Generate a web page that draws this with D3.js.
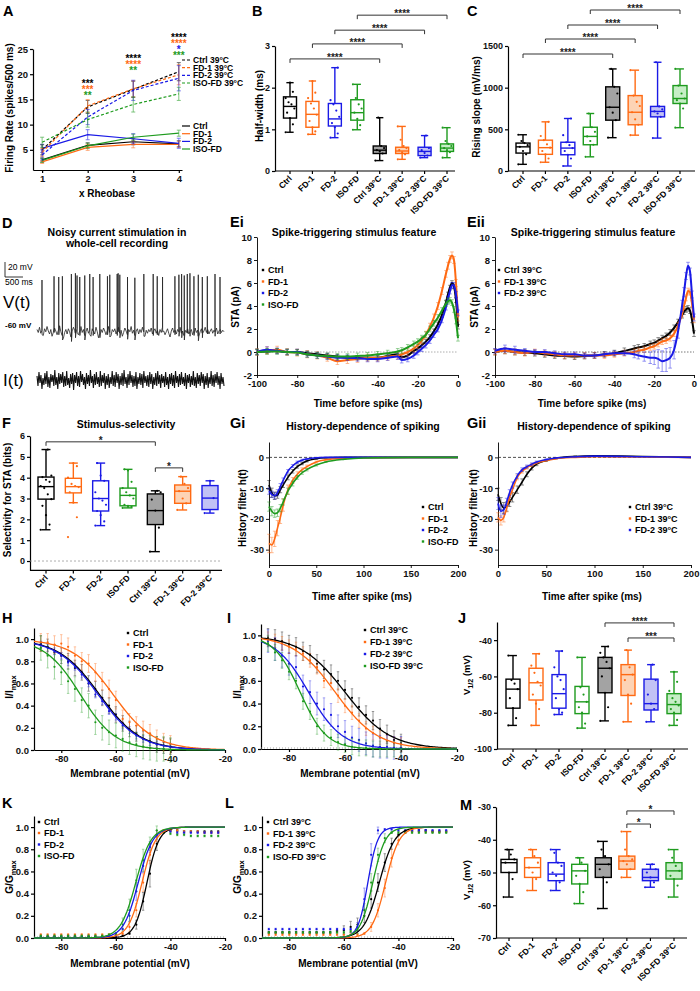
<!DOCTYPE html>
<html>
<head>
<meta charset="utf-8">
<script src="https://cdn.jsdelivr.net/npm/d3@7"></script>
<style>
body { margin: 0; background: #fff; }
text { font-family: "Liberation Sans", Arial, sans-serif; }
</style>
</head>
<body>
<svg id="fig" width="700" height="991"></svg>
<script>
const svg = d3.select("#fig");

const C = { ctrl: "#000000", fd1: "#ff6a13", fd2: "#1a1ae6", iso: "#1e9b1e" };
const grpColor = [C.ctrl, C.fd1, C.fd2, C.iso, C.ctrl, C.fd1, C.fd2, C.iso];
const grpFill = ["#fff", "#fff", "#fff", "#fff", "#a3a3a3", "#fdd3b5", "#c2c2f5", "#c6eec6"];
const col4 = [C.ctrl, C.fd1, C.fd2, C.iso];

const groups8 = ["Ctrl", "FD-1", "FD-2", "ISO-FD", "Ctrl 39°C", "FD-1 39°C", "FD-2 39°C", "ISO-FD 39°C"];
const groups7 = groups8.slice(0, 7);
const names4 = ["Ctrl", "FD-1", "FD-2", "ISO-FD"];
const names4hot = ["Ctrl 39°C", "FD-1 39°C", "FD-2 39°C", "ISO-FD 39°C"];

// ---------- A: firing rate
const rheo = [1, 2, 3, 4];
const aMean = [
	[3.0, 5.9, 6.6, 6.2], [2.6, 5.5, 6.1, 6.1], [5.3, 8.0, 7.2, 6.3], [2.9, 5.8, 7.5, 8.3],
	[5.0, 13.5, 17.0, 20.5], [4.5, 13.7, 17.1, 19.9], [4.0, 11.5, 16.8, 19.2], [6.5, 11.0, 14.0, 16.1]
];
const aSem = [
	[0.4, 0.5, 0.6, 0.6], [0.3, 0.6, 0.7, 0.6], [0.8, 1.0, 1.0, 1.0], [0.4, 0.5, 0.6, 0.6],
	[1.0, 1.3, 1.6, 1.8], [0.8, 1.3, 1.6, 2.0], [1.0, 1.5, 2.0, 2.5], [1.0, 1.5, 1.5, 1.3]
];
const aStarTop = [null, 18.5, 23.4, 27.6];
// [rheobase index, row, stars, group colour]
const aStars = [
	[1, 0, "***", 0], [1, 1, "***", 1], [1, 2, "**", 3],
	[2, 0, "****", 0], [2, 1, "****", 1], [2, 2, "**", 3],
	[3, 0, "****", 0], [3, 1, "****", 1], [3, 2, "*", 2], [3, 3, "***", 3]
];

// ---------- box plots: [min, q1, median, q3, max]
const bStats = [[0.93,1.27,1.55,1.78,2.12],[0.88,1.05,1.36,1.67,2.16],[0.80,1.08,1.25,1.62,2.48],[0.99,1.22,1.40,1.71,2.08],
	[0.25,0.42,0.50,0.60,1.28],[0.28,0.42,0.48,0.57,1.07],[0.32,0.37,0.47,0.57,0.85],[0.32,0.47,0.55,0.65,1.04]];
const bPts = [[0.93,1.12,1.27,1.4,1.5,1.6,1.65,1.75,1.9,2.12],[0.88,0.95,1.05,1.2,1.35,1.5,1.62,1.75,1.88,2.16],
	[0.8,0.9,1.05,1.15,1.3,1.45,1.6,1.7,2.48],[0.99,1.1,1.25,1.4,1.5,1.6,1.75,2.08],[0.25,0.42,0.47,0.5,0.55,0.6,1.28],
	[0.28,0.4,0.45,0.5,0.55,0.6,0.75,1.07],[0.32,0.37,0.43,0.5,0.55,0.85],[0.32,0.45,0.5,0.55,0.6,0.65,0.72,1.04]];
const bBrackets = [[0,4,2.69,"****"],[1,5,3.05,"****"],[2,6,3.38,"****"],[3,7,3.74,"****"]];

const cStats = [[80,215,290,335,435],[105,200,280,370,590],[60,195,275,345,630],[170,315,415,525,690],
	[400,610,765,1010,1225],[430,555,705,905,1210],[395,650,715,775,1305],[520,810,870,1025,1225]];
const cPts = [[80,200,240,290,310,335,360,435],[105,150,200,240,280,320,370,420,590],[60,150,195,240,275,310,345,430,630],
	[170,315,360,415,470,525,690],[400,610,700,765,930,1010,1225],[430,555,620,705,780,830,905,1210],
	[395,650,690,715,740,775,1305],[520,750,810,850,870,930,1025,1225]];
const cBrackets = [[0,4,1404,"****"],[1,5,1584,"****"],[2,6,1752,"****"],[3,7,1932,"****"]];

const fStats = [[1.5,2.97,3.57,4.03,5.35],[2.8,3.27,3.57,3.97,4.7],[1.7,2.4,3.0,3.85,4.7],[2.55,2.65,3.15,3.5,4.4],
	[0.45,1.75,2.42,3.22,3.37],[2.45,2.77,3.35,3.65,4.05],[2.3,2.47,3.02,3.62,3.85]];
const fPts = [[1.5,1.75,2.2,2.65,2.97,3.2,3.5,3.6,3.8,3.9,4.03,4.1,5.35],[1.15,2.1,2.8,3.3,3.55,3.6,3.7,4.0,4.55,4.7],
	[1.7,1.9,2.2,2.4,2.7,2.9,3.0,3.3,3.85,4.1,4.7],[2.55,2.6,2.65,2.7,3.0,3.15,3.3,3.5,3.8,4.35,4.4],
	[0.45,1.6,2.42,2.95,3.3,3.37],[2.45,2.77,3.0,3.35,3.5,3.7,4.05],[2.3,3.02,3.85]];
const fBrackets = [[0,4,5.72,"*"],[4,5,4.47,"*"]];

const jStats = [[-87,-77.5,-67,-61.5,-48.5],[-87,-73,-63.5,-55.5,-47.5],[-81,-77.5,-69.5,-59,-46],[-88.5,-80.5,-74,-65.5,-49.5],
	[-84.5,-69,-55.5,-49.5,-43.5],[-85,-70.5,-59,-53.5,-45.5],[-85,-78.5,-75,-61.5,-53.5],[-87,-80.5,-75.5,-69.5,-57.5]];
const jPts = [[-87,-83,-77.5,-72,-67,-64,-62,-48.5],[-87,-78,-75,-70,-65,-63,-58,-54,-47.5],[-81,-80,-78,-72,-67,-62,-60,-55,-46],
	[-88.5,-86,-80,-77,-74,-70,-66,-49.5],[-84.5,-77,-69,-60,-55.5,-52,-49.5,-47,-43.5],[-85,-75,-70,-62,-59,-55,-45.5],
	[-85,-78,-75,-70,-62,-53.5],[-87,-84,-80,-78,-76,-74,-72,-68,-63,-57.5]];
const jBrackets = [[4,7,-30.5,"****"],[5,7,-38.8,"***"]];

const mStats = [[-57.5,-50,-47,-46,-43],[-55.5,-51.5,-48.5,-45.5,-43],[-55.5,-52.5,-50.5,-47,-43],[-59.5,-53.5,-49.5,-47.5,-45.5],
	[-61,-51.5,-47.5,-45.5,-40.5],[-51.5,-49,-46.5,-45,-37.5],[-54.5,-52.5,-51.5,-49,-47.5],[-57.5,-52,-49.5,-47,-43]];
const mPts = [[-57.5,-52,-50,-47,-46,-44.5,-43],[-55.5,-52,-50,-48.5,-47,-45,-43],[-55.5,-53,-51,-50,-48,-47,-44,-43],
	[-59.5,-56,-53.5,-51,-49.5,-47,-45.5],[-61,-53,-51.5,-49,-47.5,-45,-43,-40.5],[-51.5,-49,-47.5,-46.5,-46,-45,-43,-37.5],
	[-54.5,-53,-51.5,-50,-49,-47.5],[-57.5,-54,-52,-51,-49.5,-48,-45.5,-43]];
const mBrackets = [[5,7,-31.2,"*"],[5,6,-35.2,"*"]];

// ---------- D: traces
const vNoise = [-58,-62,-55,-63,-59,-66,-57,-61,-54,-60,-64,-58,-67,-62,-56,-60,-65,-59,-53,-61,-66,-70,-62,-58,-64,-57,-61,-68,-60,-55,
	-59,-63,-57,-65,-60,-54,-62,-58,-66,-61,-56,-63,-59,-67,-57,-60,-64,-55,-61,-69,-63,-58,-62,-56,-60,-65,-59,-54,-62,-66,
	-58,-61,-57,-64,-60,-55,-63,-59,-67,-62,-56,-60,-65,-58,-61,-54,-63,-59,-66,-60,-57,-64,-58,-62,-55,-61,-67,-59,-63,-58,
	-61,-56,-64,-60,-57,-63,-59,-66,-58,-62,-55,-60,-65,-61,-57,-63,-68,-60,-56,-62,-59,-64,-58,-61,-55,-63,-60,-66,-59,-62,
	-57,-64,-61,-58,-65,-60,-56,-62,-59,-67,-61,-57,-63,-60,-55,-62,-58,-64,-60,-57,-63,-59,-61,-56,-64,-60,-58,-62,-59,-61];
const spikes = [[139,8],[474,13],[604,12],[706,13],[956,16],[1068,17],[1114,14],[1189,12],[1328,14],[1467,16],[1560,12],[1746,16],
	[1959,13],[2024,15],[2229,16],[2256,17],[2303,15],[2517,12],[2721,11],[2971,16],[3231,16],[3343,13],[3491,12],[3835,13],
	[3946,15],[4021,16],[4095,14],[4179,16],[4253,17],[4364,13],[4485,15],[4597,12],[4736,13],[4950,16],[5089,12]];
const iNoise = [0.4,-0.6,0.8,-0.3,0.5,-0.9,0.2,-0.5,0.7,-0.4,0.9,-0.7,0.3,-0.8,0.6,-0.2,0.5,-0.6,1.0,-0.5,0.3,-0.9,0.7,-0.4,0.6,-0.3,
	0.8,-0.7,0.4,-0.6,0.9,-0.5,0.2,-0.8,0.6,-0.4,0.7,-1.0,0.5,-0.3,0.8,-0.6,0.4,-0.7,0.9,-0.2,0.6,-0.5,0.3,-0.9,0.7,-0.4,0.5,-0.6,
	1.0,-0.3,0.4,-0.8,0.6,-0.5,0.8,-0.4,0.3,-0.7,0.9,-0.6,0.5,-0.3,0.7,-0.9,0.4,-0.5,0.6,-0.8,0.3,-0.4,0.9,-0.6,0.5,-0.7,0.8,-0.3,
	0.6,-0.9,0.4,-0.5,0.7,-0.6,1.0,-0.4,0.3,-0.8,0.6,-0.5,0.9,-0.3,0.5,-0.7,0.4,-0.6,0.8,-0.9,0.3,-0.4,0.7,-0.5,0.6,-0.8,0.9,-0.3,
	0.4,-0.6,0.5,-0.7,0.8,-0.4,0.6,-0.9,0.3,-0.5,0.7,-0.6,0.9,-0.4,0.5,-0.8,0.6,-0.3,0.4,-0.7,0.8,-0.5,0.3,-0.9,0.6,-0.4,0.7,-0.6,
	0.5,-0.8,0.9,-0.3,0.4,-0.7,0.6,-0.5,0.8,-0.4,0.3,-0.6,0.7,-0.9,0.5,-0.3,0.6,-0.7,0.4,-0.5,0.9,-0.6,0.3,-0.8,0.7,-0.4,0.5,-0.6,
	0.8,-0.3,0.6,-0.9,0.4,-0.5,0.7,-0.8,0.3,-0.4,0.9,-0.6,0.5,-0.7,0.6,-0.3,0.8,-0.5,0.4,-0.9,0.7,-0.4,0.3,-0.6];

// ---------- E: spike-triggered averages
const staT = [-100,-95,-90,-85,-80,-75,-70,-65,-60,-55,-50,-45,-40,-35,-30,-28,-25,-22,-20,-18,-16,-14,-12,-10,-8,-6,-5,-4,-3,-2,-1,0];
const staI = [
	[0,0.05,0.1,0,0,-0.1,-0.2,-0.3,-0.4,-0.5,-0.5,-0.5,-0.5,-0.35,-0.2,-0.45,-0.3,0.1,0.3,0.6,0.9,1.3,1.8,2.4,3.2,4.3,5.0,5.6,6.0,5.7,4.5,2.2],
	[0,0.15,0.2,0,-0.05,-0.2,-0.3,-0.5,-0.8,-0.7,-0.6,-0.5,-0.5,-0.4,-0.3,-0.2,0,0.3,0.6,1.0,1.5,2.2,3.0,4.0,5.3,6.8,7.5,8.1,8.4,8.0,6.0,3.0],
	[0,0.2,0.1,0,0,-0.2,-0.3,-0.4,-0.5,-0.5,-0.55,-0.6,-0.6,-0.5,-0.4,-0.7,-0.6,-0.3,0,0.3,0.6,1.0,1.5,2.0,2.8,3.9,4.6,5.3,5.8,5.8,5.0,3.4],
	[0,0.05,0.05,0,-0.05,-0.2,-0.3,-0.35,-0.4,-0.4,-0.35,-0.3,-0.2,-0.1,0.05,0.15,0.4,0.7,0.9,1.2,1.5,2.0,2.5,3.0,3.6,4.2,4.4,4.5,4.3,3.7,2.7,1.2]
];
const staISem = [0.2, 0.3, 0.25, 0.25];
const staII = [
	[0,0.1,0,-0.05,-0.1,-0.2,-0.3,-0.35,-0.4,-0.35,-0.3,-0.2,-0.1,0.1,0.3,0.4,0.5,0.7,0.8,1.0,1.2,1.4,1.7,2.1,2.6,3.2,3.5,3.7,3.8,3.6,2.8,1.6],
	[0,0.1,0,-0.1,0,-0.1,-0.2,-0.3,-0.3,-0.3,-0.3,-0.3,-0.2,-0.1,0,0.1,0.2,0.4,0.5,0.7,0.9,1.0,1.2,1.6,2.3,3.3,4.0,4.7,5.3,5.2,4.2,2.8],
	[0.1,0.3,0.2,0.1,0,0,-0.1,-0.2,-0.2,-0.3,-0.3,-0.2,-0.1,-0.1,-0.2,-0.3,-0.4,-0.5,-0.5,-0.6,-0.8,-0.7,-0.5,0.2,1.8,4.0,5.2,6.6,7.5,7.0,5.0,3.0]
];
const staIISem = [
	0.25, 0.25,
	[0.2,0.3,0.3,0.2,0.2,0.2,0.2,0.2,0.2,0.2,0.2,0.2,0.2,0.2,0.3,0.3,0.4,0.5,0.6,0.8,0.9,1.0,0.9,0.8,0.6,0.5,0.4,0.3,0.3,0.3,0.3,0.3]
];

// ---------- G: history filters
const histT = [0,3,6,9,12,15,20,25,30,35,40,50,60,80,100,150,200];
const histI = [
	[-9,-11.5,-12.5,-12.3,-10.5,-9,-6.5,-4.5,-3,-2,-1.2,-0.4,-0.1,0,0,0,0],
	[-28,-28.5,-26.5,-23,-19.5,-15.5,-10.5,-7.5,-5.5,-4,-3,-1.5,-0.8,-0.3,-0.1,0,0],
	[-11,-12,-12.5,-11.5,-9.5,-7.5,-4.5,-2.8,-1.6,-0.9,-0.5,-0.1,0,0,0,0,0],
	[-16,-17.5,-18.3,-18,-16.5,-14.5,-11,-8.5,-6.5,-5,-4,-2.5,-1.5,-0.6,-0.2,0,0]
];
const histISem = [
	[1.5,1.5,1.2,1.0,1.0,0.8,0.8,0.6,0.5,0.4,0.3,0.2,0.1,0,0,0,0],
	[3,2.5,2.5,2.5,2,2,1.5,1,0.8,0.6,0.5,0.3,0.2,0.1,0,0,0],
	[1,1,1,1,1,0.8,0.6,0.5,0.4,0.3,0.2,0.1,0,0,0,0,0],
	[1.5,1.5,1.2,1.2,1.2,1,1,0.8,0.6,0.5,0.4,0.3,0.2,0.1,0,0,0]
];
const histII = [
	[-12,-15,-16.5,-16,-14.5,-13,-10.5,-8,-5.5,-3.5,-2.2,-1,-0.3,0.3,0.5,0.3,0],
	[-19.5,-20.5,-19.5,-16.5,-13,-10.5,-6.5,-4.5,-3.3,-2.5,-1.8,-1,-0.4,0,0.2,0.1,0],
	[-15,-17.5,-17,-14.5,-11.5,-9,-6,-4,-3,-2.2,-1.5,-0.7,-0.2,0.2,0.4,0.2,0]
];
const histIISem = [
	[2,2,1.8,1.5,1.5,1.5,1.2,1,0.8,0.6,0.5,0.3,0.2,0.2,0.1,0,0],
	[1.5,1.5,1.5,1.2,1,1,0.8,0.6,0.5,0.4,0.3,0.2,0.1,0,0,0,0],
	[2,2,1.5,1.2,1,1,0.8,0.6,0.5,0.4,0.3,0.2,0.1,0.1,0,0,0]
];

// ---------- H/I: inactivation, K/L: activation
const inactV = [-87.5,-85,-82.5,-80,-77.5,-75,-72.5,-70,-67.5,-65,-62.5,-60,-57.5,-55,-52.5,-50,-47.5,-45,-42.5,-40];
const hData = [
	[0.96,0.93,0.88,0.85,0.80,0.74,0.70,0.60,0.55,0.47,0.40,0.32,0.24,0.19,0.15,0.10,0.08,0.05,0.04,0.03],
	[0.97,0.97,0.95,0.96,0.93,0.85,0.80,0.78,0.70,0.62,0.55,0.45,0.28,0.25,0.22,0.18,0.15,0.10,0.07,0.05],
	[0.95,0.92,0.89,0.85,0.79,0.75,0.68,0.60,0.50,0.44,0.35,0.30,0.22,0.18,0.13,0.10,0.07,0.05,0.04,0.03],
	[0.92,0.85,0.75,0.70,0.62,0.55,0.45,0.40,0.25,0.20,0.16,0.13,0.10,0.07,0.05,0.03,0.02,0.01,0.01,0.0]
];
const hSem = [0.07, 0.08, 0.03, 0.11];
const hFit = [[-66, 7.5], [-61, 7.5], [-66.5, 7.5], [-73, 6.5]];
const iData = [
	[0.98,0.97,0.95,0.92,0.90,0.86,0.83,0.75,0.70,0.66,0.60,0.52,0.45,0.37,0.30,0.25,0.18,0.13,0.08,0.05],
	[0.97,0.95,0.93,0.90,0.88,0.84,0.78,0.72,0.60,0.58,0.47,0.38,0.32,0.25,0.18,0.14,0.10,0.07,0.05,0.04],
	[0.95,0.88,0.82,0.75,0.72,0.55,0.50,0.40,0.35,0.30,0.20,0.15,0.10,0.08,0.05,0.03,0.02,0.02,0.01,0.01],
	[0.93,0.85,0.78,0.68,0.60,0.42,0.33,0.20,0.14,0.10,0.06,0.04,0.02,0.01,0.01,0,0,0,0,0]
];
const iSem = [0.08, 0.06, 0.1, 0.07];
const iFit = [[-60, 8], [-63.5, 7.5], [-73, 6], [-76, 4.7]];

const actV = [-87.5,-85,-82.5,-80,-77.5,-75,-72.5,-70,-67.5,-65,-62.5,-60,-57.5,-55,-52.5,-50,-47.5,-45,-42.5,-40,-37.5,-35,-32.5,-30,-27.5,-25,-22.5];
const kData = [
	[0.01,0.01,0.01,0.01,0.01,0.01,0.01,0.01,0.01,0.01,0.01,0.01,0.02,0.04,0.12,0.33,0.58,0.85,0.96,0.97,0.97,0.96,0.96,0.96,0.96,0.96,0.96],
	[0.03,0.03,0.03,0.03,0.03,0.03,0.03,0.03,0.03,0.03,0.03,0.03,0.04,0.10,0.25,0.50,0.75,0.92,0.97,0.97,0.97,0.96,0.96,0.96,0.95,0.95,0.95],
	[0.01,0.01,0.01,0.01,0.01,0.01,0.01,0.01,0.01,0.01,0.01,0.02,0.08,0.20,0.42,0.65,0.82,0.93,0.96,0.96,0.95,0.95,0.95,0.95,0.95,0.95,0.95],
	[0.02,0.02,0.02,0.02,0.02,0.02,0.02,0.02,0.02,0.02,0.03,0.04,0.12,0.25,0.52,0.70,0.85,0.97,0.95,0.94,0.93,0.93,0.92,0.92,0.92,0.92,0.92]
];
// sparse sem: [point index, sem]
const kSem = [
	[[14,0.04],[15,0.08],[16,0.12],[17,0.06]],
	[[13,0.04],[14,0.06],[15,0.08],[16,0.08],[17,0.05]],
	[[13,0.05],[14,0.08],[15,0.06],[16,0.05],[17,0.04]],
	[[12,0.06],[13,0.1],[14,0.1],[15,0.1],[16,0.06],[17,0.04]]
];
const kFit = [[-48.6, 2.2], [-50.4, 2.5], [-51.8, 2.7], [-52.7, 2.8]];
const lData = [
	[0.05,0.05,0.05,0.05,0.05,0.05,0.05,0.05,0.05,0.05,0.06,0.07,0.10,0.12,0.20,0.35,0.50,0.68,0.85,0.93,0.96,0.97,0.97,0.97,0.96,0.96,0.96],
	[0.03,0.03,0.03,0.03,0.03,0.03,0.03,0.03,0.03,0.03,0.03,0.03,0.03,0.03,0.04,0.10,0.25,0.45,0.72,0.88,0.95,0.96,0.96,0.96,0.96,0.96,0.96],
	[0.08,0.08,0.08,0.08,0.08,0.08,0.08,0.08,0.08,0.08,0.08,0.08,0.08,0.10,0.35,0.75,0.97,0.98,0.98,0.97,0.97,0.97,0.97,0.97,0.97,0.97,0.97],
	[0.05,0.05,0.05,0.05,0.05,0.05,0.05,0.05,0.05,0.05,0.05,0.05,0.06,0.08,0.25,0.50,0.75,0.90,0.95,0.95,0.95,0.95,0.95,0.95,0.95,0.95,0.95]
];
const lSem = [
	[[11,0.04],[12,0.05],[13,0.06],[14,0.06],[15,0.08],[16,0.08],[17,0.08],[18,0.05]],
	[[15,0.04],[16,0.06],[17,0.08],[18,0.08],[19,0.04]],
	[[13,0.04],[14,0.1],[15,0.1],[16,0.03]],
	[[13,0.04],[14,0.06],[15,0.08],[16,0.06],[17,0.04]]
];
const lFit = [[-47, 2.8], [-44.7, 2.5], [-51.2, 1.8], [-49.4, 2.3]];

// ================= helpers
function styleAx(sel, fs) {
	sel.selectAll("text").attr("font-size", fs || 9).attr("font-weight", "bold").attr("fill", "#111")
		.attr("font-family", '"Liberation Sans", Arial, sans-serif');
	sel.selectAll("path,line").attr("stroke", "#000").attr("stroke-width", 1.2);
}

function txt(x, y, s, o = {}) {
	return svg.append("text").attr("x", x).attr("y", y)
		.attr("font-size", o.fs || 10).attr("font-weight", o.w || "bold")
		.attr("text-anchor", o.anchor || "start").attr("fill", o.fill || "#000")
		.attr("font-family", o.family || '"Liberation Sans", Arial, sans-serif')
		.text(s);
}

// rotated axis title; parts = [[text, isSub], ...]
function yTitle(x, y, parts, fs) {
	const t = svg.append("text").attr("transform", `translate(${x},${y}) rotate(-90)`)
		.attr("text-anchor", "middle").attr("dominant-baseline", "middle")
		.attr("font-size", fs || 10).attr("font-weight", "bold");
	parts.forEach(([s, sub]) => {
		const sp = t.append("tspan").text(s);
		if (sub) sp.attr("font-size", (fs || 10) * 0.75).attr("baseline-shift", "sub");
	});
}

function axesXY(o) {
	const x = d3.scaleLinear().domain(o.xDom).range(o.xPx);
	const y = d3.scaleLinear().domain(o.yDom).range(o.yPx);
	const fx = o.xFmt ? d3.format(o.xFmt) : (d) => String(d);
	const fy = o.yFmt ? d3.format(o.yFmt) : (d) => String(d);
	const gx = svg.append("g").attr("transform", `translate(0,${o.yPx[0]})`)
		.call(d3.axisBottom(x).tickValues(o.xTicks).tickSize(3).tickSizeOuter(0).tickPadding(2).tickFormat(fx));
	const gy = svg.append("g").attr("transform", `translate(${o.xPx[0]},0)`)
		.call(d3.axisLeft(y).tickValues(o.yTicks).tickSize(3).tickSizeOuter(0).tickPadding(2).tickFormat(fy));
	styleAx(gx, o.fs);
	styleAx(gy, o.fs);
	if (o.thin) { gx.selectAll("path,line").attr("stroke-width", 0.9); gy.selectAll("path,line").attr("stroke-width", 0.9); }
	return { x, y };
}

function errBar(x, y0, y1, w, color, sw, op) {
	const g = svg.append("g").attr("stroke", color).attr("stroke-width", sw || 0.8).attr("opacity", op || 1);
	g.append("line").attr("x1", x).attr("x2", x).attr("y1", y0).attr("y2", y1);
	g.append("line").attr("x1", x - w).attr("x2", x + w).attr("y1", y0).attr("y2", y0);
	g.append("line").attr("x1", x - w).attr("x2", x + w).attr("y1", y1).attr("y2", y1);
}

function dotLegend(names, colors, x, ys, fs) {
	names.forEach((n, i) => {
		svg.append("rect").attr("x", x - 1.2).attr("y", ys[i] - 1.2).attr("width", 2.4).attr("height", 2.4).attr("fill", colors[i]);
		txt(x + 5, ys[i] + 3.2, n, { fs: fs || 9 });
	});
}

function boxPanel(o) {
	const x = d3.scalePoint().domain(o.cats).range(o.cx);
	const y = d3.scaleLinear().domain(o.yDom).range(o.yPx);
	const gy = svg.append("g").attr("transform", `translate(${o.ax},0)`)
		.call(d3.axisLeft(y).tickValues(o.ticks).tickSize(3).tickSizeOuter(0).tickPadding(2).tickFormat((d) => String(d)));
	styleAx(gy, 9);
	const base = o.yPx[0];
	svg.append("line").attr("x1", o.ax).attr("x2", o.xEnd).attr("y1", base).attr("y2", base)
		.attr("stroke", "#000").attr("stroke-width", 1.2);
	if (o.zero !== undefined) {
		svg.append("line").attr("x1", o.ax).attr("x2", o.xEnd).attr("y1", y(o.zero)).attr("y2", y(o.zero))
			.attr("stroke", "#999").attr("stroke-width", 0.8).attr("stroke-dasharray", "2,2");
	}
	o.cats.forEach((c) => {
		const cx = x(c);
		svg.append("line").attr("x1", cx).attr("x2", cx).attr("y1", base).attr("y2", base + 3)
			.attr("stroke", "#000").attr("stroke-width", 1.2);
		svg.append("text").attr("transform", `translate(${cx + 2.5},${base + 8}) rotate(-45)`)
			.attr("text-anchor", "end").attr("font-size", 8.5).attr("font-weight", "bold").text(c);
	});
	o.stats.forEach((s, i) => {
		const cx = x(o.cats[i]);
		const hw = o.bw / 2;
		const cw = o.bw * 0.28;
		const g = svg.append("g").attr("stroke", grpColor[i]).attr("stroke-width", 1.4).attr("fill", "none");
		g.append("line").attr("x1", cx).attr("x2", cx).attr("y1", y(s[0])).attr("y2", y(s[1]));
		g.append("line").attr("x1", cx).attr("x2", cx).attr("y1", y(s[3])).attr("y2", y(s[4]));
		g.append("line").attr("x1", cx - cw).attr("x2", cx + cw).attr("y1", y(s[0])).attr("y2", y(s[0]));
		g.append("line").attr("x1", cx - cw).attr("x2", cx + cw).attr("y1", y(s[4])).attr("y2", y(s[4]));
		g.append("rect").attr("x", cx - hw).attr("y", y(s[3])).attr("width", o.bw).attr("height", y(s[1]) - y(s[3]))
			.attr("fill", grpFill[i]);
		g.append("line").attr("x1", cx - hw).attr("x2", cx + hw).attr("y1", y(s[2])).attr("y2", y(s[2]));
	});
	o.pts.forEach((arr, i) => {
		const cx = x(o.cats[i]);
		svg.append("g").selectAll("circle").data(arr).join("circle")
			.attr("cx", (d, j) => cx + (((j * 5) % 7) - 3) * (o.bw / 9))
			.attr("cy", (d) => y(d)).attr("r", 1.1).attr("fill", grpColor[i]);
	});
	o.brackets.forEach(([a, b, lv, lab]) => {
		const x1 = x(o.cats[a]);
		const x2 = x(o.cats[b]);
		const yy = y(lv);
		svg.append("path").attr("d", `M${x1},${yy + 4}V${yy}H${x2}V${yy + 4}`)
			.attr("fill", "none").attr("stroke", "#333").attr("stroke-width", 1);
		txt((x1 + x2) / 2, yy + 2, lab, { fs: 10, anchor: "middle", fill: "#222" });
	});
	return { x, y };
}

function linesPanel(ax, ts, series, sems, colors, lw) {
	const line = d3.line().x((d) => ax.x(d[0])).y((d) => ax.y(d[1])).curve(d3.curveMonotoneX);
	series.forEach((vals, i) => {
		const pts = ts.map((t, j) => [t, vals[j]]);
		pts.forEach((p, j) => {
			const s = Array.isArray(sems[i]) ? sems[i][j] : sems[i];
			if (s > 0) errBar(ax.x(p[0]), ax.y(p[1] - s), ax.y(p[1] + s), 1.8, colors[i], 0.7, 0.65);
		});
		svg.append("path").datum(pts).attr("d", line).attr("fill", "none")
			.attr("stroke", colors[i]).attr("stroke-width", lw || 2);
	});
}

function boltzPanel(ax, vs, data, sem, fit, colors, act) {
	const vGrid = d3.range(ax.x.domain()[0], ax.x.domain()[1] + 0.01, 0.5);
	const fitLine = d3.line().x((d) => ax.x(d[0])).y((d) => ax.y(d[1]));
	data.forEach((vals, i) => {
		vals.forEach((v, j) => {
			let s = sem[i];
			if (Array.isArray(s)) {
				const hit = s.find((e) => e[0] === j);
				s = hit ? hit[1] : 0.008;
			}
			errBar(ax.x(vs[j]), ax.y(v - s), ax.y(v + s), 1.2, colors[i], 0.8, 0.5);
			svg.append("circle").attr("cx", ax.x(vs[j])).attr("cy", ax.y(v)).attr("r", 1.1).attr("fill", colors[i]);
		});
	});
	fit.forEach(([vh, k], i) => {
		// Boltzmann fit with the read-off V1/2 and slope
		const curve = vGrid.map((v) => [v, act ? 1 / (1 + Math.exp((vh - v) / k)) : 1 / (1 + Math.exp((v - vh) / k))]);
		svg.append("path").datum(curve).attr("d", fitLine).attr("fill", "none")
			.attr("stroke", colors[i]).attr("stroke-width", 1.3);
	});
}

// ================= panel letters
[["A",3,16],["B",252,16],["C",467,16],["D",2,228],["Ei",230,227],["Eii",467,227],["F",2,428],["Gi",230,428],["Gii",467,428],
 ["H",2,623],["I",227,623],["J",458,623],["K",2,808],["L",225,808],["M",460,810]]
	.forEach(([s, x, y]) => txt(x, y, s, { fs: 14.5 }));

// ================= A
{
	const ax = axesXY({ xDom: [0.8, 4.07], xPx: [33, 182], yDom: [1, 25], yPx: [170, 49],
		xTicks: rheo, yTicks: [5, 10, 15, 20, 25], fs: 9.5 });
	const line = d3.line().x((d, j) => ax.x(rheo[j])).y((d) => ax.y(d));
	aMean.forEach((m, i) => {
		m.forEach((v, j) => errBar(ax.x(rheo[j]), ax.y(v - aSem[i][j]), ax.y(v + aSem[i][j]), 2, grpColor[i], 0.8, 0.7));
		svg.append("path").datum(m).attr("d", line).attr("fill", "none").attr("stroke", grpColor[i])
			.attr("stroke-width", 1.2).attr("stroke-dasharray", i >= 4 ? "3,2" : null);
	});
	aStars.forEach(([xi, row, s, ci]) => {
		txt(ax.x(rheo[xi]), ax.y(aStarTop[xi]) + row * 6 + 5, s, { fs: 10, anchor: "middle", fill: grpColor[ci] });
	});
	const legY1 = [60, 67.7, 75.3, 83], legY2 = [126, 133.7, 141.4, 149];
	names4hot.forEach((n, i) => {
		svg.append("line").attr("x1", 182).attr("x2", 190).attr("y1", legY1[i]).attr("y2", legY1[i])
			.attr("stroke", grpColor[i + 4]).attr("stroke-width", 1.2).attr("stroke-dasharray", "3,2");
		txt(193, legY1[i] + 3, n, { fs: 8.5 });
	});
	names4.forEach((n, i) => {
		svg.append("line").attr("x1", 182).attr("x2", 190).attr("y1", legY2[i]).attr("y2", legY2[i])
			.attr("stroke", grpColor[i]).attr("stroke-width", 1.2);
		txt(193, legY2[i] + 3, n, { fs: 8.5 });
	});
	yTitle(10, 108, [["Firing Rate (spikes/500 ms)"]], 10);
	txt(107, 197, "x Rheobase", { fs: 10, anchor: "middle" });
}

// ================= B, C
boxPanel({ cats: groups8, cx: [290, 447], ax: 275, xEnd: 455, yDom: [0, 3], yPx: [171, 46], ticks: [0, 1, 2, 3],
	bw: 13, stats: bStats, pts: bPts, brackets: bBrackets });
yTitle(260, 106, [["Half-width (ms)"]], 10);
boxPanel({ cats: groups8, cx: [523, 680], ax: 508, xEnd: 695, yDom: [0, 1500], yPx: [171, 46], ticks: [0, 500, 1000, 1500],
	bw: 14, stats: cStats, pts: cPts, brackets: cBrackets });
yTitle(477, 107, [["Rising slope (mV/ms)"]], 10);

// ================= D
{
	txt(117, 236, "Noisy current stimulation in", { fs: 10.5, anchor: "middle" });
	txt(117, 247, "whole-cell recording", { fs: 10.5, anchor: "middle" });
	const xD = d3.scaleLinear().domain([0, 5200]).range([37, 224]);
	const yD = d3.scaleLinear().domain([-60, -40]).range([331, 316]);
	const step = 5200 / (vNoise.length - 1);
	const vPts = vNoise.map((v, i) => [i * step, v]);
	spikes.forEach(([t, pk]) => {
		const b = vNoise[Math.min(vNoise.length - 1, Math.round(t / step))];
		vPts.push([t - 2, b], [t, pk], [t + 3, b - 6]);
	});
	vPts.sort((a, b) => a[0] - b[0]);
	svg.append("path").datum(vPts).attr("d", d3.line().x((d) => xD(d[0])).y((d) => yD(d[1])))
		.attr("fill", "none").attr("stroke", "#222").attr("stroke-width", 0.8);
	const yI = d3.scaleLinear().domain([-1, 1]).range([390, 370]);
	const stepI = 5200 / (iNoise.length - 1);
	svg.append("path").datum(iNoise.map((v, i) => [i * stepI, v]))
		.attr("d", d3.line().x((d) => xD(d[0])).y((d) => yI(d[1])))
		.attr("fill", "none").attr("stroke", "#111").attr("stroke-width", 1.1);
	// scale bar
	svg.append("path").attr("d", `M5,${yD(-40) - 54}V${yD(-40) - 39}H${5 + xD(500) - xD(0)}`)
		.attr("fill", "none").attr("stroke", "#000").attr("stroke-width", 0.8);
	txt(8, 270, "20 mV", { fs: 8.5, w: "normal" });
	txt(5, 285, "500 ms", { fs: 8.5, w: "normal" });
	txt(3, 308, "V(t)", { fs: 17, w: "normal", family: '"DejaVu Serif", "Liberation Serif", serif' });
	txt(5, 328, "-60 mV", { fs: 8, w: "bold" });
	txt(3, 386, "I(t)", { fs: 17, w: "normal", family: '"DejaVu Serif", "Liberation Serif", serif' });
}

// ================= Ei, Eii
{
	txt(354, 236, "Spike-triggering stimulus feature", { fs: 10.5, anchor: "middle" });
	const ax = axesXY({ xDom: [-100, 0], xPx: [257, 458], yDom: [-2, 10], yPx: [375, 237],
		xTicks: [-100, -80, -60, -40, -20, 0], yTicks: [-2, 0, 2, 4, 6, 8, 10], fs: 9.5, thin: true });
	svg.append("line").attr("x1", 257).attr("x2", 458).attr("y1", ax.y(0)).attr("y2", ax.y(0))
		.attr("stroke", "#999").attr("stroke-width", 0.8).attr("stroke-dasharray", "1.5,1.5");
	linesPanel(ax, staT, staI, staISem, col4, 2);
	dotLegend(names4, col4, 263, [270, 281.5, 293, 304.5], 9);
	yTitle(236, 307, [["STA (pA)"]], 10);
	txt(368, 407, "Time before spike (ms)", { fs: 10, anchor: "middle" });
}
{
	txt(593, 236, "Spike-triggering stimulus feature", { fs: 10.5, anchor: "middle" });
	const ax = axesXY({ xDom: [-100, 0], xPx: [495, 694], yDom: [-2, 10], yPx: [375, 237],
		xTicks: [-100, -80, -60, -40, -20, 0], yTicks: [-2, 0, 2, 4, 6, 8, 10], fs: 9.5, thin: true });
	svg.append("line").attr("x1", 495).attr("x2", 694).attr("y1", ax.y(0)).attr("y2", ax.y(0))
		.attr("stroke", "#555").attr("stroke-width", 0.8).attr("stroke-dasharray", "1.5,1.5");
	linesPanel(ax, staT, staII, staIISem, col4.slice(0, 3), 2);
	dotLegend(names4hot.slice(0, 3), col4, 499, [270, 281.5, 293], 9);
	yTitle(475, 307, [["STA (pA)"]], 10);
	txt(592, 407, "Time before spike (ms)", { fs: 10, anchor: "middle" });
}

// ================= F
txt(126, 428, "Stimulus-selectivity", { fs: 10.5, anchor: "middle" });
boxPanel({ cats: groups7, cx: [46, 210], ax: 30, xEnd: 222, yDom: [-0.45, 6], yPx: [570.4, 436], ticks: [0, 1, 2, 3, 4, 5, 6],
	bw: 16, stats: fStats, pts: fPts, brackets: fBrackets, zero: 0 });
yTitle(8, 500, [["Selectivity for STA (bits)"]], 10);

// ================= Gi, Gii
{
	txt(363, 430, "History-dependence of spiking", { fs: 10.5, anchor: "middle" });
	const ax = axesXY({ xDom: [0, 200], xPx: [269, 458], yDom: [-35, 5], yPx: [565, 442],
		xTicks: [0, 50, 100, 150, 200], yTicks: [-30, -20, -10, 0], fs: 9.5, thin: true });
	svg.append("line").attr("x1", 269).attr("x2", 458).attr("y1", ax.y(0)).attr("y2", ax.y(0))
		.attr("stroke", "#222").attr("stroke-width", 0.8).attr("stroke-dasharray", "3,2");
	linesPanel(ax, histT, histI, histISem, col4, 1.6);
	dotLegend(names4, col4, 423, [507, 518.5, 530, 541.5], 9);
	yTitle(243, 508, [["History filter h(t)"]], 10);
	txt(362, 600, "Time after spike (ms)", { fs: 10, anchor: "middle" });
}
{
	txt(594, 430, "History-dependence of spiking", { fs: 10.5, anchor: "middle" });
	const ax = axesXY({ xDom: [0, 200], xPx: [498, 691], yDom: [-35, 5], yPx: [565, 442],
		xTicks: [0, 50, 100, 150, 200], yTicks: [-30, -20, -10, 0], fs: 9.5, thin: true });
	svg.append("line").attr("x1", 498).attr("x2", 691).attr("y1", ax.y(0)).attr("y2", ax.y(0))
		.attr("stroke", "#222").attr("stroke-width", 0.8).attr("stroke-dasharray", "3,2");
	linesPanel(ax, histT, histII, histIISem, col4.slice(0, 3), 1.6);
	dotLegend(names4hot.slice(0, 3), col4, 630, [507, 518.5, 530], 9);
	yTitle(474, 508, [["History filter h(t)"]], 10);
	txt(592, 600, "Time after spike (ms)", { fs: 10, anchor: "middle" });
}

// ================= H, I
{
	const ax = axesXY({ xDom: [-90, -20], xPx: [34, 225], yDom: [0, 1.1], yPx: [750, 628],
		xTicks: [-80, -60, -40, -20], yTicks: [0, 0.2, 0.4, 0.6, 0.8, 1.0], yFmt: ".1f", fs: 9.5 });
	boltzPanel(ax, inactV, hData, hSem, hFit, col4, false);
	dotLegend(names4, col4, 128, [633, 644.5, 656, 667.5], 9);
	yTitle(10, 687, [["I/I"], ["max", true]], 10);
	txt(130, 777, "Membrane potential (mV)", { fs: 10, anchor: "middle" });
}
{
	const ax = axesXY({ xDom: [-90, -20], xPx: [261, 457], yDom: [0, 1.1], yPx: [749, 624],
		xTicks: [-80, -60, -40, -20], yTicks: [0, 0.2, 0.4, 0.6, 0.8, 1.0], yFmt: ".1f", fs: 9.5 });
	svg.append("line").attr("x1", 261).attr("x2", 457).attr("y1", 748).attr("y2", 748)
		.attr("stroke", "#888").attr("stroke-width", 0.8).attr("stroke-dasharray", "1,2");
	boltzPanel(ax, inactV, iData, iSem, iFit, col4, false);
	dotLegend(names4hot, col4, 365, [630, 642, 654, 666], 9);
	yTitle(238, 687, [["I/I"], ["max", true]], 10);
	txt(360, 777, "Membrane potential (mV)", { fs: 10, anchor: "middle" });
}

// ================= J
boxPanel({ cats: groups8, cx: [513, 674], ax: 497, xEnd: 688, yDom: [-100, -30], yPx: [749, 622], ticks: [-100, -80, -60, -40],
	bw: 14, stats: jStats, pts: jPts, brackets: jBrackets });
yTitle(467, 675, [["V"], ["1/2", true], [" (mV)"]], 9.5);

// ================= K, L
{
	const ax = axesXY({ xDom: [-90, -20], xPx: [34, 225], yDom: [0, 1.1], yPx: [938, 816],
		xTicks: [-80, -60, -40, -20], yTicks: [0, 0.2, 0.4, 0.6, 0.8, 1.0], yFmt: ".1f", fs: 9.5 });
	svg.append("line").attr("x1", 34).attr("x2", 225).attr("y1", 937).attr("y2", 937)
		.attr("stroke", "#888").attr("stroke-width", 0.8).attr("stroke-dasharray", "1,2");
	boltzPanel(ax, actV, kData, kSem, kFit, col4, true);
	dotLegend(names4, col4, 39, [822, 833, 844.5, 856], 9);
	yTitle(10, 877, [["G/G"], ["max", true]], 10);
	txt(130, 967, "Membrane potential (mV)", { fs: 10, anchor: "middle" });
}
{
	const ax = axesXY({ xDom: [-90, -20], xPx: [262, 453], yDom: [0, 1.1], yPx: [938, 816],
		xTicks: [-80, -60, -40, -20], yTicks: [0, 0.2, 0.4, 0.6, 0.8, 1.0], yFmt: ".1f", fs: 9.5 });
	svg.append("line").attr("x1", 262).attr("x2", 453).attr("y1", 937).attr("y2", 937)
		.attr("stroke", "#888").attr("stroke-width", 0.8).attr("stroke-dasharray", "1,2");
	boltzPanel(ax, actV, lData, lSem, lFit, col4, true);
	dotLegend(names4hot, col4, 268, [822, 833.5, 845, 857], 9);
	yTitle(238, 877, [["G/G"], ["max", true]], 10);
	txt(358, 967, "Membrane potential (mV)", { fs: 10, anchor: "middle" });
}

// ================= M
boxPanel({ cats: groups8, cx: [509, 674], ax: 496, xEnd: 687, yDom: [-70, -30], yPx: [938, 807], ticks: [-70, -60, -50, -40, -30],
	bw: 16, stats: mStats, pts: mPts, brackets: mBrackets });
yTitle(467, 880, [["V"], ["1/2", true], [" (mV)"]], 9.5);
</script>
</body>
</html>
